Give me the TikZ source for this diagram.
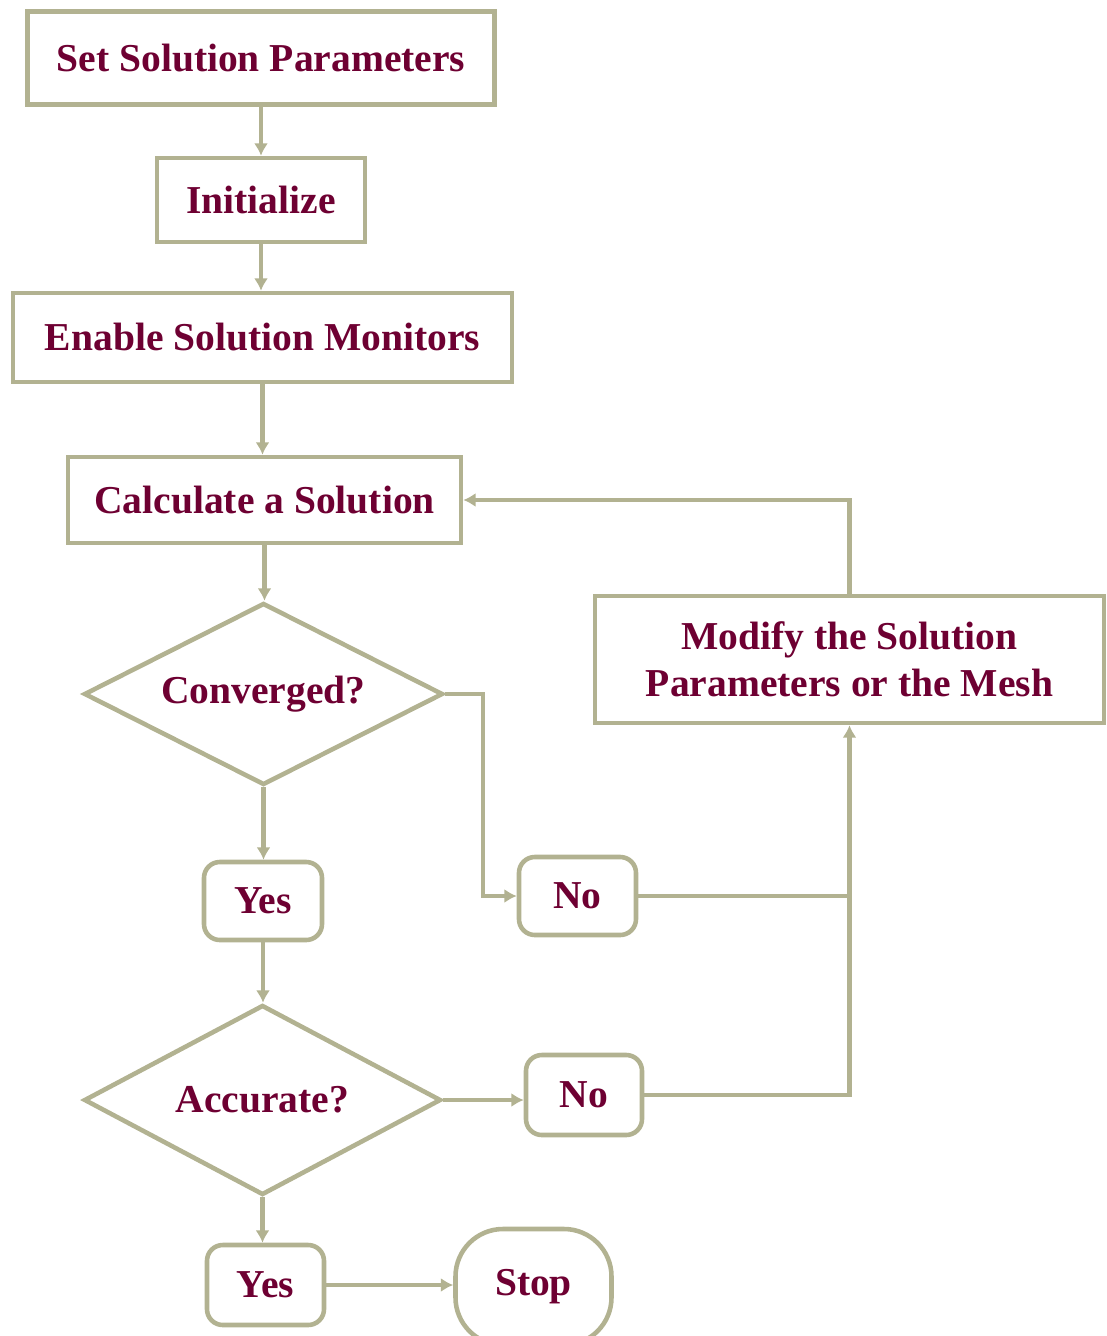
\documentclass[tikz,border=0pt]{standalone}
\usepackage{fontspec}
\setmainfont{Liberation Serif}
\usepackage{tikz}
\usetikzlibrary{arrows.meta}
\usetikzlibrary{shapes.geometric}
\definecolor{olivegray}{RGB}{178,178,145}
\definecolor{maroon}{RGB}{110,0,50}
\tikzset{
  base/.style={draw=olivegray,line width=2.6pt,text=maroon,font=\fontsize{22.5}{27}\selectfont\bfseries,inner sep=2pt,align=center},
  box/.style={base,rectangle},
  answer/.style={base,rectangle,rounded corners=9pt},
  decision/.style={base,diamond,aspect=2},
  terminal/.style={base,rectangle,rounded corners=0.95cm},
  flow/.style={draw=olivegray,line width=2.6pt,-{Latex[length=7pt,width=8pt]}},
  link/.style={draw=olivegray,line width=2.6pt}
}
\begin{document}
\begin{tikzpicture}[line join=miter]
\useasboundingbox (0,0) rectangle (22.14,-26.72);
\node[box,minimum width=9.34cm,minimum height=1.86cm] (setparam) at (5.22,-1.16) {Set Solution Parameters};
\node[box,minimum width=4.16cm,minimum height=1.68cm] (init) at (5.22,-4.00) {Initialize};
\node[box,minimum width=9.98cm,minimum height=1.78cm] (monitor) at (5.25,-6.75) {Enable Solution Monitors};
\node[box,minimum width=7.86cm,minimum height=1.72cm] (calc) at (5.29,-10.00) {Calculate a Solution};
\node[decision,minimum width=7.18cm,minimum height=3.64cm] (conv) at (5.27,-13.88) {Converged?};
\node[answer,minimum width=2.36cm,minimum height=1.56cm] (yesconv) at (5.26,-18.02) {Yes};
\node[answer,minimum width=2.34cm,minimum height=1.56cm] (noconv) at (11.55,-17.92) {No};
\node[decision,minimum width=7.14cm,minimum height=3.80cm] (acc) at (5.25,-22.00) {Accurate?};
\node[answer,minimum width=2.32cm,minimum height=1.60cm] (noacc) at (11.68,-21.90) {No};
\node[answer,minimum width=2.34cm,minimum height=1.60cm] (yesacc) at (5.31,-25.70) {Yes};
\node[terminal,minimum width=3.12cm,minimum height=2.32cm] (stop) at (10.67,-25.74) {Stop};
\node[box,minimum width=10.18cm,minimum height=2.54cm] (modify) at (16.99,-13.19) {Modify the Solution\\Parameters or the Mesh};
\coordinate (bend) at (9.66,-13.88);
\coordinate (join) at (modify.south |- noconv.east);
\draw[flow] (setparam.south) -- (setparam.south |- init.north);
\draw[flow] (init.south) -- (init.south |- monitor.north);
\draw[flow] (monitor.south) -- (monitor.south |- calc.north);
\draw[flow] (calc.south) -- (calc.south |- conv.north);
\draw[flow] (conv.south) -- (conv.south |- yesconv.north);
\draw[flow] (conv.east) -- (bend) |- (noconv.west);
\draw[link] (noconv.east) -- (join);
\draw[flow] (yesconv.south) -- (yesconv.south |- acc.north);
\draw[flow] (acc.east) -- (acc.east -| noacc.west);
\draw[flow] (noacc.east) -| (modify.south);
\draw[flow] (modify.north) |- (calc.east);
\draw[flow] (acc.south) -- (acc.south |- yesacc.north);
\draw[flow] (yesacc.east) -- (yesacc.east -| stop.west);
\end{tikzpicture}
\end{document}
